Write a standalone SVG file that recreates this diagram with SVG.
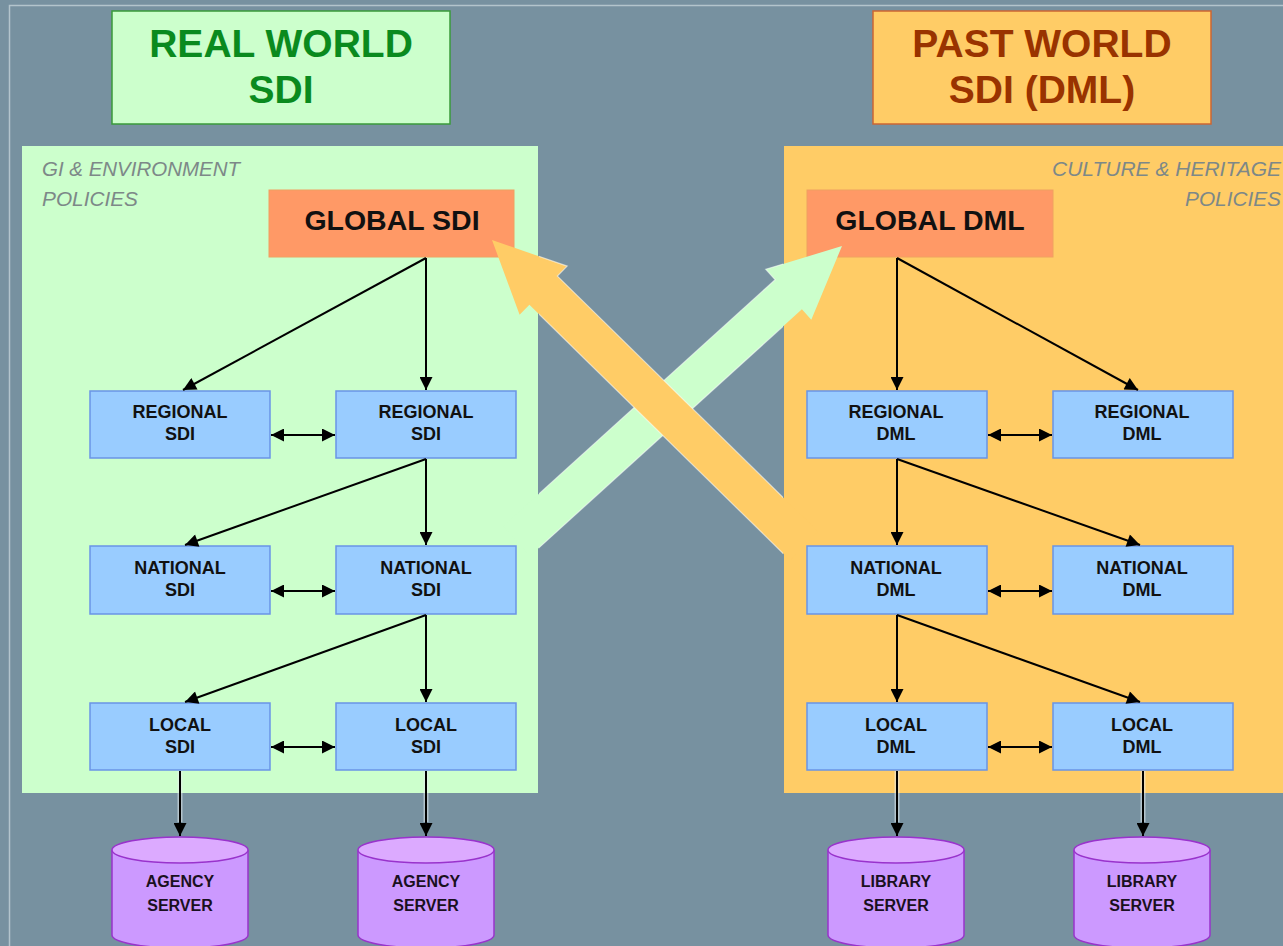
<svg xmlns="http://www.w3.org/2000/svg" width="1283" height="946" viewBox="0 0 1283 946">
<defs>
<marker id="ah" viewBox="0 0 10 10" refX="10" refY="5" markerUnits="userSpaceOnUse" markerWidth="14" markerHeight="13" orient="auto-start-reverse"><path d="M0,0 L10,5 L0,10 z" fill="#000"/></marker>
<clipPath id="gap"><rect x="539" y="146" width="244" height="647"/></clipPath>
<style>
.node rect{fill:#99ccff;stroke:#6a94e6;stroke-width:1.5}
.glob rect{fill:#ff9966;stroke:#f0a060;stroke-width:1}
.nt{font-family:"Liberation Sans",Arial,sans-serif;font-weight:bold;font-size:18px;fill:#111;text-anchor:middle}
.gt{font-family:"Liberation Sans",Arial,sans-serif;font-weight:bold;font-size:28.5px;fill:#111;text-anchor:middle}
.tt{font-family:"Liberation Sans",Arial,sans-serif;font-weight:bold;font-size:39px;text-anchor:middle}
.pol{font-family:"Liberation Sans",Arial,sans-serif;font-style:italic;font-size:20px;fill:#7d8888}
.ct{font-family:"Liberation Sans",Arial,sans-serif;font-weight:bold;font-size:16px;fill:#1a1020;text-anchor:middle}
.cyl path,.cyl ellipse{stroke:#9933cc;stroke-width:1.5}
.cyl path{fill:#cc99ff}
.cyl ellipse{fill:#dcaaff}
#connectors line{stroke:#000;stroke-width:2;fill:none}
#connectors line.halo{stroke:#e8eef0;stroke-width:5;stroke-opacity:0.55}
.edge{fill:none;stroke:#ffffff;stroke-opacity:0.55;stroke-width:1.2}
</style>
</defs>
<rect x="0" y="0" width="1283" height="946" fill="#7791a0"/>
<path d="M9.5,946 V5.5 H1283" fill="none" stroke="#b3c4cc" stroke-width="1.5"/>

<g id="title-real">
<rect x="112" y="11" width="338" height="113" fill="#ccffcc" stroke="#3a9a3a" stroke-width="1.5"/>
<text class="tt" x="281" y="57" fill="#0a8a1e">REAL WORLD</text>
<text class="tt" x="281" y="103" fill="#0a8a1e">SDI</text>
</g>
<g id="title-past">
<rect x="873" y="11" width="338" height="113" fill="#ffcc66" stroke="#cc6633" stroke-width="1.5"/>
<text class="tt" x="1042" y="57" fill="#993300">PAST WORLD</text>
<text class="tt" x="1042" y="103" fill="#993300">SDI (DML)</text>
</g>

<g id="panel-real">
<rect x="22" y="146" width="516" height="647" fill="#ccffcc"/>
<text class="pol" x="42" y="176" textLength="198" lengthAdjust="spacingAndGlyphs">GI &amp; ENVIRONMENT</text>
<text class="pol" x="42" y="206" textLength="96" lengthAdjust="spacingAndGlyphs">POLICIES</text>
</g>
<g id="panel-past">
<rect x="784" y="146" width="499" height="647" fill="#ffcc66"/>
<text class="pol" x="1052" y="176" textLength="229" lengthAdjust="spacingAndGlyphs">CULTURE &amp; HERITAGE</text>
<text class="pol" x="1185" y="206" textLength="96" lengthAdjust="spacingAndGlyphs">POLICIES</text>
</g>

<g id="global-sdi" class="glob">
<rect x="269" y="190" width="245" height="67"/>
<text class="gt" x="392" y="230">GLOBAL SDI</text>
</g>
<g id="global-dml" class="glob">
<rect x="807" y="190" width="246" height="67"/>
<text class="gt" x="930" y="230">GLOBAL DML</text>
</g>

<g id="big-arrows">
<polygon fill="#ccffcc" points="842,246 811.3,319.7 801.9,309.3 530,555.9 503.1,526.3 775.1,279.7 765.7,269.3"/>
<polygon class="edge" clip-path="url(#gap)" points="842,246 811.3,319.7 801.9,309.3 530,555.9 503.1,526.3 775.1,279.7 765.7,269.3"/>
<polygon fill="#ffcc66" points="492,240 567.2,266.1 557.4,276.1 818,531.6 790,560.2 529.4,304.7 519.6,314.7"/>
<polygon class="edge" clip-path="url(#gap)" points="492,240 567.2,266.1 557.4,276.1 818,531.6 790,560.2 529.4,304.7 519.6,314.7"/>
</g>

<g id="reg-sdi-1" class="node"><rect x="90" y="391" width="180" height="67"/><text class="nt" x="180" y="418">REGIONAL</text><text class="nt" x="180" y="440">SDI</text></g>
<g id="reg-sdi-2" class="node"><rect x="336" y="391" width="180" height="67"/><text class="nt" x="426" y="418">REGIONAL</text><text class="nt" x="426" y="440">SDI</text></g>
<g id="nat-sdi-1" class="node"><rect x="90" y="546" width="180" height="68"/><text class="nt" x="180" y="574">NATIONAL</text><text class="nt" x="180" y="596">SDI</text></g>
<g id="nat-sdi-2" class="node"><rect x="336" y="546" width="180" height="68"/><text class="nt" x="426" y="574">NATIONAL</text><text class="nt" x="426" y="596">SDI</text></g>
<g id="loc-sdi-1" class="node"><rect x="90" y="703" width="180" height="67"/><text class="nt" x="180" y="731">LOCAL</text><text class="nt" x="180" y="753">SDI</text></g>
<g id="loc-sdi-2" class="node"><rect x="336" y="703" width="180" height="67"/><text class="nt" x="426" y="731">LOCAL</text><text class="nt" x="426" y="753">SDI</text></g>

<g id="reg-dml-1" class="node"><rect x="807" y="391" width="180" height="67"/><text class="nt" x="896" y="418">REGIONAL</text><text class="nt" x="896" y="440">DML</text></g>
<g id="reg-dml-2" class="node"><rect x="1053" y="391" width="180" height="67"/><text class="nt" x="1142" y="418">REGIONAL</text><text class="nt" x="1142" y="440">DML</text></g>
<g id="nat-dml-1" class="node"><rect x="807" y="546" width="180" height="68"/><text class="nt" x="896" y="574">NATIONAL</text><text class="nt" x="896" y="596">DML</text></g>
<g id="nat-dml-2" class="node"><rect x="1053" y="546" width="180" height="68"/><text class="nt" x="1142" y="574">NATIONAL</text><text class="nt" x="1142" y="596">DML</text></g>
<g id="loc-dml-1" class="node"><rect x="807" y="703" width="180" height="67"/><text class="nt" x="896" y="731">LOCAL</text><text class="nt" x="896" y="753">DML</text></g>
<g id="loc-dml-2" class="node"><rect x="1053" y="703" width="180" height="67"/><text class="nt" x="1142" y="731">LOCAL</text><text class="nt" x="1142" y="753">DML</text></g>

<g id="cyl-agency-1" class="cyl"><path d="M112,850 V935 A68,13 0 0 0 248,935 V850"/><ellipse cx="180" cy="850" rx="68" ry="13"/><text class="ct" x="180" y="887">AGENCY</text><text class="ct" x="180" y="911">SERVER</text></g>
<g id="cyl-agency-2" class="cyl"><path d="M358,850 V935 A68,13 0 0 0 494,935 V850"/><ellipse cx="426" cy="850" rx="68" ry="13"/><text class="ct" x="426" y="887">AGENCY</text><text class="ct" x="426" y="911">SERVER</text></g>
<g id="cyl-library-1" class="cyl"><path d="M828,850 V935 A68,13 0 0 0 964,935 V850"/><ellipse cx="896" cy="850" rx="68" ry="13"/><text class="ct" x="896" y="887">LIBRARY</text><text class="ct" x="896" y="911">SERVER</text></g>
<g id="cyl-library-2" class="cyl"><path d="M1074,850 V935 A68,13 0 0 0 1210,935 V850"/><ellipse cx="1142" cy="850" rx="68" ry="13"/><text class="ct" x="1142" y="887">LIBRARY</text><text class="ct" x="1142" y="911">SERVER</text></g>

<g id="connectors">
<line x1="426" y1="258" x2="183" y2="390" marker-end="url(#ah)"/>
<line x1="426" y1="258" x2="426" y2="390" marker-end="url(#ah)"/>
<line x1="426" y1="459" x2="185" y2="545" marker-end="url(#ah)"/>
<line x1="426" y1="459" x2="426" y2="545" marker-end="url(#ah)"/>
<line x1="426" y1="615" x2="185" y2="702" marker-end="url(#ah)"/>
<line x1="426" y1="615" x2="426" y2="702" marker-end="url(#ah)"/>
<line x1="271" y1="435" x2="335" y2="435" marker-start="url(#ah)" marker-end="url(#ah)"/>
<line x1="271" y1="591" x2="335" y2="591" marker-start="url(#ah)" marker-end="url(#ah)"/>
<line x1="271" y1="747" x2="335" y2="747" marker-start="url(#ah)" marker-end="url(#ah)"/>

<line x1="897" y1="258" x2="897" y2="390" marker-end="url(#ah)"/>
<line x1="897" y1="258" x2="1138" y2="390" marker-end="url(#ah)"/>
<line x1="897" y1="459" x2="897" y2="545" marker-end="url(#ah)"/>
<line x1="897" y1="459" x2="1140" y2="545" marker-end="url(#ah)"/>
<line x1="897" y1="615" x2="897" y2="702" marker-end="url(#ah)"/>
<line x1="897" y1="615" x2="1140" y2="702" marker-end="url(#ah)"/>
<line x1="988" y1="435" x2="1052" y2="435" marker-start="url(#ah)" marker-end="url(#ah)"/>
<line x1="988" y1="591" x2="1052" y2="591" marker-start="url(#ah)" marker-end="url(#ah)"/>
<line x1="988" y1="747" x2="1052" y2="747" marker-start="url(#ah)" marker-end="url(#ah)"/>

<line class="halo" x1="180" y1="771" x2="180" y2="822"/>
<line class="halo" x1="426" y1="771" x2="426" y2="822"/>
<line class="halo" x1="897" y1="771" x2="897" y2="822"/>
<line class="halo" x1="1143" y1="771" x2="1143" y2="822"/>
<line x1="180" y1="771" x2="180" y2="836" marker-end="url(#ah)"/>
<line x1="426" y1="771" x2="426" y2="836" marker-end="url(#ah)"/>
<line x1="897" y1="771" x2="897" y2="836" marker-end="url(#ah)"/>
<line x1="1143" y1="771" x2="1143" y2="836" marker-end="url(#ah)"/>
</g>
</svg>
